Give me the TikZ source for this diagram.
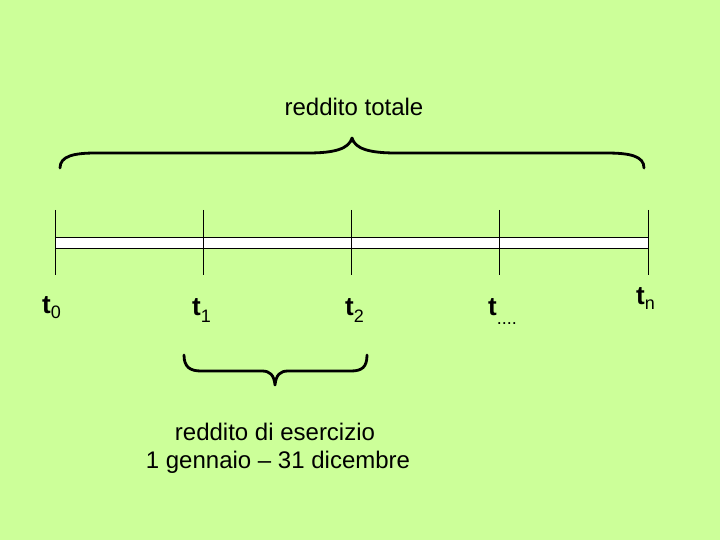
\documentclass[tikz,border=0pt]{standalone}
\usepackage{fontspec}
\setmainfont{Liberation Sans}
\definecolor{bg}{HTML}{CCFF99}
\newcommand{\tlab}[2]{\fontsize{26}{26}\selectfont\bfseries t\raisebox{-#2pt}{\mdseries\fontsize{18}{18}\selectfont #1}}
\begin{document}
\begin{tikzpicture}[x=1pt,y=-1pt,
  lbl/.style={font=\fontsize{24}{28}\selectfont, inner sep=0pt, anchor=base},
  tl/.style={inner sep=0pt, anchor=base west},
  tick/.style={draw=black, line width=0.9pt},
  brace/.style={draw=black, line width=2.8pt, line cap=round, line join=round}]
\fill[bg] (0,0) rectangle (720,540);
\useasboundingbox (0,0) rectangle (720,540);
% bar
\draw[fill=white, line width=0.9pt] (55,237) rectangle (648,248);
% ticks
\foreach \x/\n in {55/a,203/b,351/c,499/d,648/e} {
  \coordinate (top\n) at (\x,210);
  \coordinate (bot\n) at (\x,275);
  \draw[tick] (top\n) -- (bot\n);
}
% top brace
\coordinate (TL) at (60,168);
\coordinate (TP) at (352,138);
\coordinate (TR) at (644,168);
\draw[brace] (TL) .. controls (60,156) and (74,153) .. (96,153) -- (308,153)
  .. controls (334,153) and (349,149) .. (TP)
  .. controls (355,149) and (370,153) .. (396,153) -- (606,153)
  .. controls (630,153) and (644,156) .. (TR);
% bottom brace
\coordinate (BL) at (184,355);
\coordinate (BP) at (275,385);
\coordinate (BR) at (367,355);
\draw[brace] (BL) .. controls (184,367) and (190,371) .. (201,371) -- (262,371)
  .. controls (270,371) and (274,375) .. (BP)
  .. controls (276,375) and (280,371) .. (288,371) -- (351,371)
  .. controls (362,371) and (367,367) .. (BR);
% labels
\node[lbl] (tot) at (354,116) {reddito totale};
\node[lbl] (es1) at (275,440) {reddito di esercizio};
\node[lbl] (es2) at (278,468) {1 gennaio -- 31 dicembre};
\node[tl] (t0) at (42,313) {\tlab{0}{5}};
\node[tl] (t1) at (192,315) {\tlab{1}{7}};
\node[tl] (t2) at (345,315) {\tlab{2}{7}};
\node[tl] (t3) at (488,315) {\tlab{....}{9}};
\node[tl] (tn) at (636,304) {\tlab{n}{5}};
\end{tikzpicture}
\end{document}
